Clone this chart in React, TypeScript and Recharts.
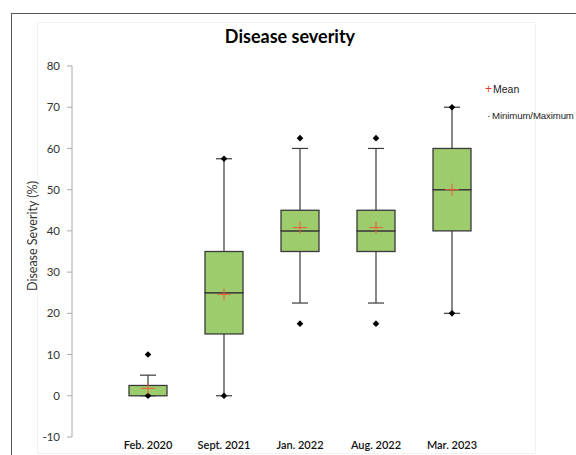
import React from 'react'
import { ComposedChart, Bar, Scatter, XAxis, YAxis } from 'recharts'

const categories = ['Feb. 2020', 'Sept. 2021', 'Jan. 2022', 'Aug. 2022', 'Mar. 2023']
const whiskerLow = [0, 0, 22.5, 22.5, 20]
const quartile1 = [0, 15, 35, 35, 40]
const medians = [0, 25, 40, 40, 50]
const quartile3 = [2.5, 35, 45, 45, 60]
const whiskerHigh = [5, 57.5, 60, 60, 70]
const means = [1.8, 24.6, 40.8, 40.8, 50]
const minimums = [0, 0, 17.5, 17.5, 20]
const maximums = [10, 57.5, 62.5, 62.5, 70]
const yTicks = [-10, 0, 10, 20, 30, 40, 50, 60, 70, 80]

const data = categories.map((name, i) => ({
  name,
  base: whiskerLow[i],
  lowWhisker: quartile1[i] - whiskerLow[i],
  lowBox: medians[i] - quartile1[i],
  highBox: quartile3[i] - medians[i],
  highWhisker: whiskerHigh[i] - quartile3[i],
  mean: means[i],
  min: minimums[i],
  max: maximums[i],
}))

const GREEN = '#9dcc6c'
const EDGE = '#3a3a3a'
const FONT = 'Lato, "Open Sans", sans-serif'

function BoxPart(props: any) {
  const { x, y, width, height } = props
  return <rect x={x} y={y} width={width} height={Math.max(height, 0)} fill={GREEN} stroke={EDGE} strokeWidth={1.3} />
}

function Whisker({ capAtTop }: { capAtTop: boolean }) {
  return (props: any) => {
    const { x, y, width, height } = props
    const cx = x + width / 2
    const capY = capAtTop ? y : y + height
    return (
      <g>
        <line x1={cx} x2={cx} y1={y} y2={y + height} stroke={EDGE} strokeWidth={1.2} />
        <line x1={cx - 8} x2={cx + 8} y1={capY} y2={capY} stroke={EDGE} strokeWidth={1.2} />
      </g>
    )
  }
}

const MeanCross = (props: any) => {
  const { cx, cy } = props
  return (
    <g>
      <line x1={cx - 7} x2={cx + 7} y1={cy} y2={cy} stroke="#ee5a3a" strokeWidth={1} />
      <line x1={cx} x2={cx} y1={cy - 6} y2={cy + 6} stroke="#ee5a3a" strokeWidth={1} />
    </g>
  )
}

const Diamond = (props: any) => {
  const { cx, cy } = props
  return <path d={`M${cx},${cy - 3.3}L${cx + 3.3},${cy}L${cx},${cy + 3.3}L${cx - 3.3},${cy}Z`} fill="#000" />
}

export default function App() {
  return (
    <div style={{ position: 'fixed', left: 0, top: 0, width: 576, height: 455, background: '#fff', overflow: 'hidden' }}>
      {/* frame */}
      <div style={{ position: 'absolute', left: 11, top: 13, width: 600, height: 500, borderTop: '1.5px solid #555', borderLeft: '1.5px solid #555' }} />
      <div style={{ position: 'absolute', left: 37, top: 22, width: 497, height: 430, border: '1px solid #f2f2f2' }} />

      <div style={{ position: 'absolute', left: 0, top: 0 }}>
        <ComposedChart width={576} height={455} data={data} margin={{ top: 66, right: 48, bottom: 0, left: 0 }}>
          <XAxis
            dataKey="name"
            axisLine={false}
            tickLine={false}
            tickSize={0}
            tickMargin={4}
            height={18}
            padding={{ left: 38, right: 38 }}
            tick={{ fill: '#111', fontSize: 11, fontFamily: FONT, fontWeight: 600 }}
          />
          <YAxis
            type="number"
            domain={[-10, 80]}
            ticks={yTicks}
            width={72}
            axisLine={{ stroke: '#aaa' }}
            tickLine={{ stroke: '#aaa' }}
            tickSize={5}
            tickMargin={7}
            tick={{ fill: '#333', fontSize: 11.5, fontFamily: FONT }}
          />
          <Bar dataKey="base" stackId="box" fill="transparent" barSize={38} isAnimationActive={false} />
          <Bar dataKey="lowWhisker" stackId="box" barSize={38} shape={Whisker({ capAtTop: false })} isAnimationActive={false} />
          <Bar dataKey="lowBox" stackId="box" barSize={38} shape={BoxPart} isAnimationActive={false} />
          <Bar dataKey="highBox" stackId="box" barSize={38} shape={BoxPart} isAnimationActive={false} />
          <Bar dataKey="highWhisker" stackId="box" barSize={38} shape={Whisker({ capAtTop: true })} isAnimationActive={false} />
          <Scatter dataKey="min" shape={Diamond} isAnimationActive={false} />
          <Scatter dataKey="max" shape={Diamond} isAnimationActive={false} />
          <Scatter dataKey="mean" shape={MeanCross} isAnimationActive={false} />
        </ComposedChart>
      </div>

      <div style={{ position: 'absolute', left: 0, width: 580, top: 25, textAlign: 'center', fontFamily: FONT, fontWeight: 700, fontSize: 18, color: '#000' }}>
        Disease severity
      </div>

      <div
        style={{
          position: 'absolute', left: 32, top: 236, transform: 'translate(-50%, -50%) rotate(-90deg)',
          whiteSpace: 'nowrap', fontFamily: FONT, fontSize: 12.5, color: '#333',
        }}
      >
        Disease Severity (%)
      </div>

      <div style={{ position: 'absolute', left: 485, top: 82, fontFamily: '"Liberation Sans", Arial, sans-serif', fontSize: 10.5, color: '#222', whiteSpace: 'nowrap' }}>
        <span style={{ color: '#e33', fontSize: 12, marginRight: 1 }}>+</span>Mean
      </div>
      <div style={{ position: 'absolute', left: 487, top: 110, fontFamily: '"Liberation Sans", Arial, sans-serif', fontSize: 9.6, color: '#222', whiteSpace: 'nowrap', letterSpacing: -0.1 }}>
        <span style={{ marginRight: 2 }}>·</span>Minimum/Maximum
      </div>
    </div>
  )
}
